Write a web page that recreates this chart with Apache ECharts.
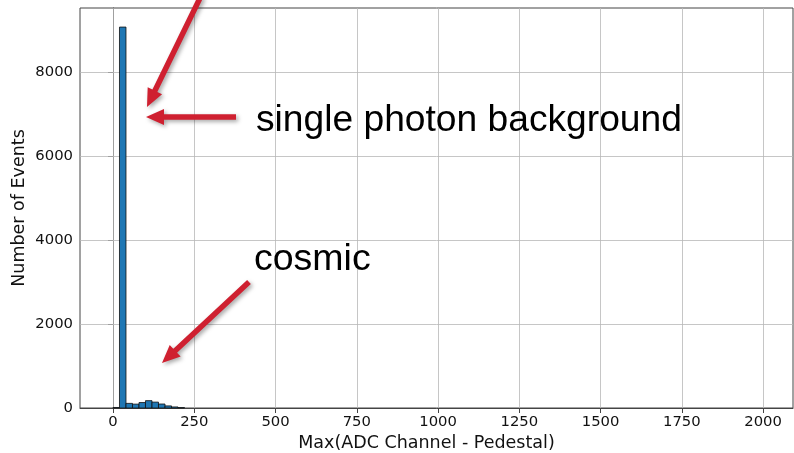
<!DOCTYPE html>
<html><head><meta charset="utf-8">
<script src="https://cdn.jsdelivr.net/npm/echarts@6/dist/echarts.min.js"></script>
<style>html,body{margin:0;padding:0;background:#fff}#c{width:794px;height:453px}</style>
</head><body><div id="c"></div>
<script>
const binWidth = 20;
const binStarts = [0, 20, 40, 60, 80, 100, 120, 140, 160, 180, 200];
const counts    = [12, 9070, 110, 92, 130, 175, 140, 95, 50, 25, 10];
const xTicks = [0, 250, 500, 750, 1000, 1250, 1500, 1750, 2000];
const yTicks = [0, 2000, 4000, 6000, 8000];

const histData = binStarts.map((s, i) => [s, s + binWidth, counts[i]]);

const RED = '#cf2030';
function arrow(tail, tip, shaft, headLen, headW) {
  const dx = tip[0] - tail[0], dy = tip[1] - tail[1];
  const L = Math.hypot(dx, dy), ux = dx / L, uy = dy / L, nx = -uy, ny = ux;
  const bx = tip[0] - ux * headLen, by = tip[1] - uy * headLen;
  const s = shaft / 2, h = headW / 2;
  return {
    type: 'polygon',
    shape: { points: [
      [tail[0] + nx * s, tail[1] + ny * s],
      [bx + nx * s, by + ny * s],
      [bx + nx * h, by + ny * h],
      tip,
      [bx - nx * h, by - ny * h],
      [bx - nx * s, by - ny * s],
      [tail[0] - nx * s, tail[1] - ny * s]
    ]},
    style: { fill: RED, shadowBlur: 4, shadowOffsetX: 2, shadowOffsetY: 2, shadowColor: 'rgba(0,0,0,0.35)' },
    z: 100
  };
}

const chart = echarts.init(document.getElementById('c'));
const tickFont = { fontFamily: 'DejaVu Sans', fontSize: 14.8, color: '#111', formatter: v => String(v) };
const nameFont = { fontFamily: 'DejaVu Sans', fontSize: 17.5, color: '#111' };
chart.setOption({
  animation: false,
  grid: { left: 80, right: 1, top: 8, bottom: 45, show: true, borderColor: '#444', borderWidth: 1,
          containLabel: false, outerBoundsMode: 'none' },
  xAxis: {
    type: 'value', min: -101.5, max: 2092,
    axisLabel: Object.assign({ customValues: xTicks, margin: 7 }, tickFont),
    axisTick: { customValues: xTicks, length: 5, lineStyle: { color: '#444' } },
    axisLine: { onZero: false, lineStyle: { color: '#444' } },
    splitLine: { show: false },
    name: 'Max(ADC Channel - Pedestal)', nameLocation: 'middle', nameGap: 26, nameMoveOverlap: false,
    nameTextStyle: Object.assign({ padding: [0, 20, 0, 0] }, nameFont)
  },
  yAxis: {
    type: 'value', min: 0, max: 9524,
    axisLabel: Object.assign({ customValues: yTicks, margin: 7 }, tickFont),
    axisTick: { show: true, customValues: yTicks, length: 5, lineStyle: { color: '#444' } },
    axisLine: { show: true, lineStyle: { color: '#444' } },
    splitLine: { show: false },
    name: 'Number of Events', nameLocation: 'middle', nameGap: 52, nameRotate: 90, nameMoveOverlap: false,
    nameTextStyle: nameFont
  },
  series: [
    {
      type: 'line', data: [], silent: true,
      markLine: {
        silent: true, symbol: 'none', label: { show: false },
        lineStyle: { color: '#b8b8b8', width: 0.8, type: 'solid' },
        data: xTicks.map(v => ({ xAxis: v })).concat(yTicks.slice(1).map(v => ({ yAxis: v })))
      }
    },
    {
      type: 'custom',
      data: histData,
      encode: { x: [0, 1], y: 2 },
      renderItem: (params, api) => {
        const p0 = api.coord([api.value(0), api.value(2)]);
        const p1 = api.coord([api.value(1), 0]);
        return { type: 'rect',
          shape: { x: p0[0], y: p0[1], width: p1[0] - p0[0], height: p1[1] - p0[1] },
          style: { fill: '#1f77b4', stroke: '#111', lineWidth: 0.8 } };
      },
      z: 5
    }
  ],
  graphic: [
    arrow([201, -4], [147, 107], 5.5, 18, 16),
    arrow([236, 117], [146, 117], 5.5, 18, 16),
    arrow([249, 282], [162, 363], 5.5, 18, 16),
    { type: 'text', left: 256, top: 102, z: 100,
      style: { text: 'single photon background', font: '37.2px "Liberation Sans", Arial, sans-serif', fill: '#000' } },
    { type: 'text', left: 254, top: 241, z: 100,
      style: { text: 'cosmic', font: '37.5px "Liberation Sans", Arial, sans-serif', fill: '#000' } }
  ]
});
</script></body></html>
